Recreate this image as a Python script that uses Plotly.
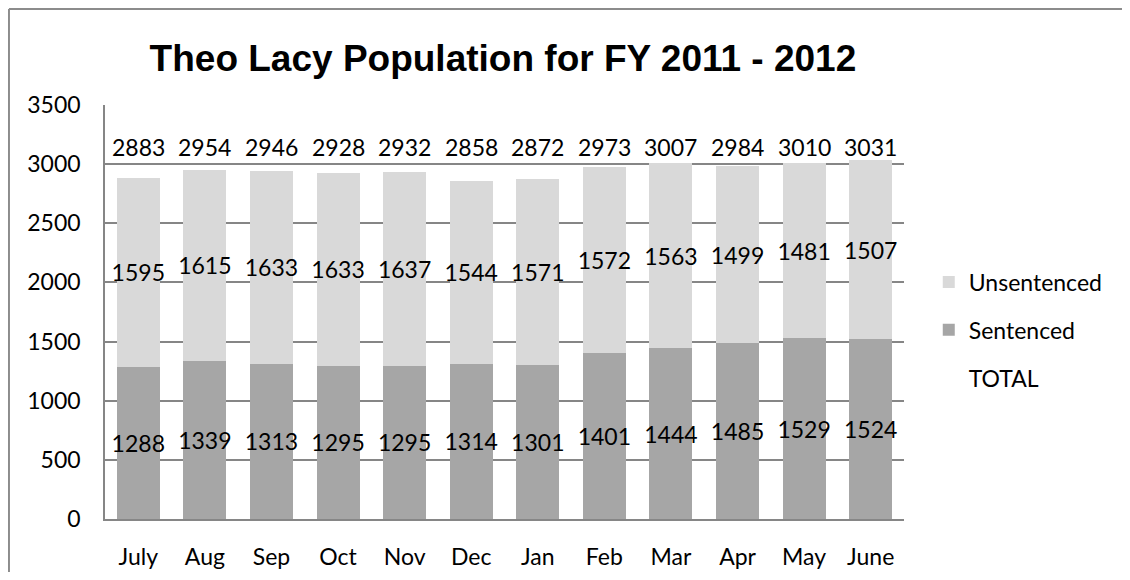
import plotly.graph_objects as go

months = ["July", "Aug", "Sep", "Oct", "Nov", "Dec", "Jan", "Feb", "Mar", "Apr", "May", "June"]
sentenced = [1288, 1339, 1313, 1295, 1295, 1314, 1301, 1401, 1444, 1485, 1529, 1524]
unsentenced = [1595, 1615, 1633, 1633, 1637, 1544, 1571, 1572, 1563, 1499, 1481, 1507]
totals = [2883, 2954, 2946, 2928, 2932, 2858, 2872, 2973, 3007, 2984, 3010, 3031]
y_ticks = [0, 500, 1000, 1500, 2000, 2500, 3000, 3500]

FONT = "Lato"
FS = 23
total_label_level = 3145

fig = go.Figure()
fig.add_trace(go.Bar(
    x=months, y=sentenced, name="Sentenced",
    marker=dict(color="#a6a6a6", line=dict(width=0)),
    text=[str(v) for v in sentenced], textposition="inside",
    insidetextanchor="middle", textangle=0, constraintext="none",
    textfont=dict(family=FONT, size=FS, color="black"),
    legendgroup="s", legendrank=2,
))
fig.add_trace(go.Bar(
    x=months, y=unsentenced, name="Unsentenced",
    marker=dict(color="#d9d9d9", line=dict(width=0)),
    text=[str(v) for v in unsentenced], textposition="inside",
    insidetextanchor="middle", textangle=0, constraintext="none",
    textfont=dict(family=FONT, size=FS, color="black"),
    legendgroup="u", legendrank=1,
))
fig.add_trace(go.Scatter(
    x=months, y=totals, name="TOTAL", mode="markers",
    marker=dict(opacity=0, color="white"),
    hoverinfo="skip", legendgroup="t", legendrank=3,
))

for m, t in zip(months, totals):
    fig.add_annotation(x=m, y=total_label_level, text=str(t), showarrow=False,
                       xref="x", yref="y", yanchor="middle",
                       font=dict(family=FONT, size=FS, color="black"))

# outer chart border (only left/top edges visible in the crop)
border = dict(color="#8c8c8c", width=2)
fig.add_shape(type="line", xref="paper", yref="paper",
              x0=-0.1202, x1=-0.1202, y0=-0.25, y1=1.2319, line=border, layer="below")
fig.add_shape(type="line", xref="paper", yref="paper",
              x0=-0.1202, x1=1.35, y0=1.2319, y1=1.2319, line=border, layer="below")

fig.update_layout(
    width=1114, height=564,
    barmode="stack", bargap=0.354,
    plot_bgcolor="white", paper_bgcolor="white",
    margin=dict(l=97, r=218, t=97, b=53, autoexpand=False),
    font=dict(family=FONT, size=FS, color="black"),
    title=dict(text="<b>Theo Lacy Population for FY 2011 - 2012</b>",
               font=dict(family="Liberation Sans", size=37, color="black"),
               x=0.4443, xanchor="center", xref="container",
               y=0.9113, yanchor="middle", yref="container"),
    legend=dict(x=1.031, xanchor="left", y=0.4565, yanchor="middle",
                traceorder="grouped", tracegroupgap=15,
                font=dict(family=FONT, size=FS, color="black"),
                bgcolor="rgba(0,0,0,0)"),
    showlegend=True,
)
fig.update_xaxes(range=[-0.5, 11.5], automargin=False, showline=True,
                 linecolor="#868686", linewidth=1.5,
                 showgrid=False, ticks="", ticklabelstandoff=17,
                 tickfont=dict(family=FONT, size=FS, color="black"))
fig.update_yaxes(range=[0, 3500], tickvals=y_ticks, automargin=False, showline=True,
                 linecolor="#868686", linewidth=1.5, showgrid=True,
                 gridcolor="#868686", gridwidth=1.5, zeroline=False, ticks="",
                 ticklabelstandoff=18,
                 tickfont=dict(family=FONT, size=FS, color="black"))

fig.write_html("out.html")
